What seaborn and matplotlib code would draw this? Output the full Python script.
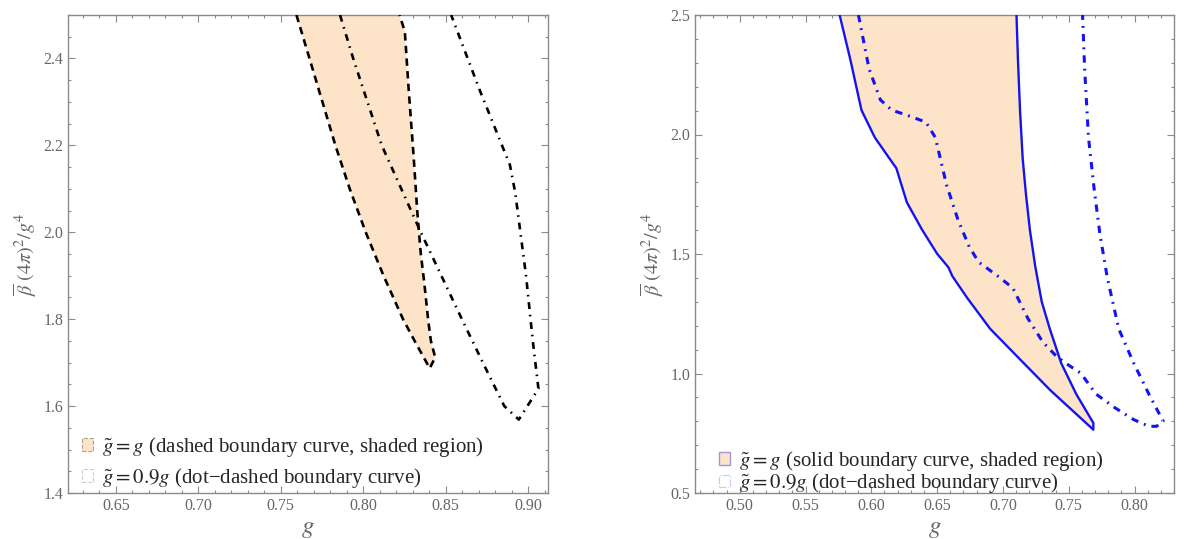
import numpy as np
import pandas as pd
import matplotlib
matplotlib.use("Agg")
import matplotlib.pyplot as plt
import seaborn as sns
from matplotlib.patches import Patch
from matplotlib.ticker import MultipleLocator, FormatStrFormatter

# ---------------- data ----------------
# Left panel: g~ = g region (dashed boundary, shaded)
left_eq_lo_g = [0.7595, 0.7674, 0.7831, 0.7918, 0.8015, 0.8123, 0.8241, 0.8317, 0.8403]
left_eq_lo_b = [2.500, 2.400, 2.200, 2.100, 2.000, 1.900, 1.800, 1.746, 1.687]
left_eq_hi_g = [0.8436, 0.8410, 0.8393, 0.8371, 0.8349, 0.8328, 0.8306, 0.8274, 0.8252, 0.8220]
left_eq_hi_b = [1.712, 1.750, 1.800, 1.880, 1.950, 2.045, 2.171, 2.336, 2.462, 2.500]
# Left panel: g~ = 0.9 g (dot-dashed boundary)
left_09_g = [0.7859, 0.7939, 0.8112, 0.8349, 0.8598, 0.8725, 0.8855, 0.8943,
             0.9062, 0.9029, 0.8986, 0.8921, 0.8889, 0.8705, 0.8533]
left_09_b = [2.500, 2.400, 2.200, 2.000, 1.800, 1.700, 1.600, 1.569,
             1.640, 1.746, 1.903, 2.092, 2.155, 2.328, 2.500]

# Right panel: g~ = g region (solid boundary, shaded)
right_eq_lo_g = [0.5759, 0.5839, 0.5925, 0.6026, 0.6126, 0.6190, 0.6270, 0.6385,
                 0.6500, 0.6586, 0.6615, 0.6730, 0.6903, 0.7132, 0.7362, 0.7687]
right_eq_lo_b = [2.500, 2.317, 2.102, 1.988, 1.909, 1.859, 1.716, 1.602,
                 1.501, 1.444, 1.408, 1.315, 1.187, 1.058, 0.929, 0.765]
right_eq_hi_g = [0.7687, 0.7557, 0.7443, 0.7356, 0.7295, 0.7245, 0.7205, 0.7175,
                 0.7150, 0.7130, 0.7115, 0.7103]
right_eq_hi_b = [0.793, 0.914, 1.043, 1.187, 1.300, 1.450, 1.600, 1.750,
                 1.900, 2.100, 2.300, 2.500]
# Right panel: g~ = 0.9 g (dot-dashed boundary)
right_09_g = [0.5902, 0.5983, 0.6069, 0.6155, 0.6270, 0.6414, 0.6486, 0.6572, 0.6658,
              0.6744, 0.6816, 0.6960, 0.7075, 0.7190, 0.7305, 0.7405, 0.7477, 0.7592,
              0.7707, 0.7850, 0.7994, 0.8109, 0.8167, 0.8218, 0.8109, 0.7994, 0.7880,
              0.7793, 0.7736, 0.7693, 0.7650, 0.7621, 0.7605]
right_09_b = [2.500, 2.274, 2.145, 2.102, 2.081, 2.052, 1.988, 1.788, 1.644,
              1.530, 1.466, 1.408, 1.358, 1.230, 1.130, 1.073, 1.043, 1.001,
              0.914, 0.857, 0.807, 0.779, 0.779, 0.800, 0.914, 1.043, 1.187,
              1.401, 1.587, 1.773, 1.988, 2.274, 2.500]

left_xticks = [0.65, 0.70, 0.75, 0.80, 0.85, 0.90]
left_yticks = [1.4, 1.6, 1.8, 2.0, 2.2, 2.4]
right_xticks = [0.50, 0.55, 0.60, 0.65, 0.70, 0.75, 0.80]
right_yticks = [0.5, 1.0, 1.5, 2.0, 2.5]

legend_left = [r"$\tilde{g}=g$ (dashed boundary curve, shaded region)",
               r"$\tilde{g}=0.9g$ (dot−dashed boundary curve)"]
legend_right = [r"$\tilde{g}=g$ (solid boundary curve, shaded region)",
                r"$\tilde{g}=0.9g$ (dot−dashed boundary curve)"]
ylabel = r"$\overline{\beta}\ (4\pi)^2/g^4$"
xlabel = r"$g$"

# ---------------- style ----------------
sns.set_style("ticks")
plt.rcParams['font.family'] = ['Liberation Serif', 'DejaVu Serif']
plt.rcParams['mathtext.fontset'] = 'stix'

PEACH = "#FDE3C8"
GREY = "#8a8a8a"
LABEL_GREY = "#666666"
BLUE = "#1414F0"

fig = plt.figure(figsize=(11.84, 5.39), dpi=100)
axL = fig.add_axes([68/1184, 46/539, 480/1184, 478/539])
axR = fig.add_axes([695/1184, 46/539, 479/1184, 478/539])


def style_axes(ax, xlim, ylim, xticks, yticks, xminor, yminor, xfmt, yfmt):
    ax.set_xlim(*xlim)
    ax.set_ylim(*ylim)
    ax.set_xticks(xticks)
    ax.set_yticks(yticks)
    ax.xaxis.set_minor_locator(MultipleLocator(xminor))
    ax.yaxis.set_minor_locator(MultipleLocator(yminor))
    ax.xaxis.set_major_formatter(FormatStrFormatter(xfmt))
    ax.yaxis.set_major_formatter(FormatStrFormatter(yfmt))
    for s in ax.spines.values():
        s.set_visible(True)
        s.set_color(GREY)
        s.set_linewidth(1.0)
    ax.tick_params(which='both', direction='in', top=True, right=True,
                   color=GREY, labelcolor=LABEL_GREY, labelsize=11.5, width=0.8)
    ax.tick_params(which='major', length=5)
    ax.tick_params(which='minor', length=2.5)
    ax.set_xlabel(xlabel, fontsize=18, color=LABEL_GREY, labelpad=3)
    ax.set_ylabel(ylabel, fontsize=14.5, color=LABEL_GREY, labelpad=3)
    ax.grid(False)


# ---- left panel ----
poly_g = left_eq_lo_g + left_eq_hi_g
poly_b = left_eq_lo_b + left_eq_hi_b
axL.fill(poly_g, poly_b, color=PEACH, lw=0, zorder=1)
sns.lineplot(x=poly_g, y=poly_b, sort=False, estimator=None, ax=axL,
             color="black", lw=1.9, zorder=3)
axL.lines[-1].set_dashes([2.8, 2.0])
sns.lineplot(x=left_09_g, y=left_09_b, sort=False, estimator=None, ax=axL,
             color="black", lw=1.9, zorder=3)
axL.lines[-1].set_dashes([2.6, 2.2, 0.6, 2.2])
style_axes(axL, (0.621, 0.912), (1.4, 2.5), left_xticks, left_yticks,
           0.01, 0.05, "%.2f", "%.1f")

hL = [Patch(facecolor=PEACH, edgecolor="#b0a090", linestyle="--", lw=0.8),
      Patch(facecolor="white", edgecolor="#cccccc", linestyle="--", lw=0.8)]
axL.legend(hL, legend_left, loc="upper left", bbox_to_anchor=(0.029, 0.122),
           frameon=False, fontsize=15, handlelength=0.55, handleheight=0.55,
           handletextpad=0.4, labelspacing=0.35, borderpad=0, borderaxespad=0)

# ---- right panel ----
poly_g = right_eq_lo_g + right_eq_hi_g
poly_b = right_eq_lo_b + right_eq_hi_b
axR.fill(poly_g, poly_b, color=PEACH, lw=0, zorder=1)
sns.lineplot(x=poly_g, y=poly_b, sort=False, estimator=None, ax=axR,
             color=BLUE, lw=1.7, zorder=3)
sns.lineplot(x=right_09_g, y=right_09_b, sort=False, estimator=None, ax=axR,
             color=BLUE, lw=2.2, zorder=3)
axR.lines[-1].set_dashes([2.4, 2.0, 0.6, 2.0])
style_axes(axR, (0.466, 0.830), (0.5, 2.5), right_xticks, right_yticks,
           0.01, 0.1, "%.2f", "%.1f")

hR = [Patch(facecolor=PEACH, edgecolor="#9d95e0", lw=1.0),
      Patch(facecolor="white", edgecolor="#c8c8ff", linestyle="-.", lw=0.8)]
axR.legend(hR, legend_right, loc="upper left", bbox_to_anchor=(0.050, 0.092),
           frameon=False, fontsize=15, handlelength=0.55, handleheight=0.55,
           handletextpad=0.4, labelspacing=-0.08, borderpad=0, borderaxespad=0)

fig.savefig("out.png", dpi=100)
